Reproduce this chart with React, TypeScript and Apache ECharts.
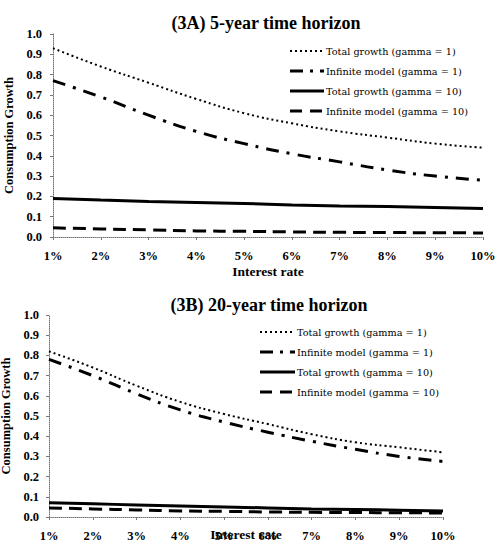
import React, { useEffect, useRef } from "react";
import * as echarts from "echarts";

const rates = ["1%", "2%", "3%", "4%", "5%", "6%", "7%", "8%", "9%", "10%"];

const seriesNames = [
  "Total growth (gamma = 1)",
  "Infinite model (gamma = 1)",
  "Total growth (gamma = 10)",
  "Infinite model (gamma = 10)",
];

// (3A) 5-year horizon
const a_totalG1 = [0.93, 0.84, 0.76, 0.68, 0.61, 0.56, 0.52, 0.49, 0.46, 0.44];
const a_infG1 = [0.77, 0.69, 0.6, 0.52, 0.46, 0.41, 0.37, 0.33, 0.3, 0.28];
const a_totalG10 = [0.19, 0.182, 0.175, 0.17, 0.165, 0.158, 0.153, 0.15, 0.145, 0.14];
const a_infG10 = [0.045, 0.04, 0.035, 0.03, 0.028, 0.025, 0.023, 0.022, 0.021, 0.02];

// (3B) 20-year horizon
const b_totalG1 = [0.82, 0.74, 0.65, 0.57, 0.51, 0.46, 0.41, 0.37, 0.345, 0.32];
const b_infG1 = [0.78, 0.7, 0.61, 0.53, 0.47, 0.42, 0.375, 0.335, 0.3, 0.275];
const b_totalG10 = [0.07, 0.065, 0.06, 0.055, 0.05, 0.045, 0.04, 0.037, 0.034, 0.03];
const b_infG10 = [0.045, 0.04, 0.035, 0.03, 0.028, 0.025, 0.023, 0.022, 0.021, 0.02];

const SERIF = "'Liberation Serif', 'DejaVu Serif', serif";
const LEGEND_FONT = "'DejaVu Serif', serif";

const lineStyles: any[] = [
  { type: [2, 3], width: 2, color: "#000" },
  { type: [13, 8, 3, 8], width: 3, color: "#000" },
  { type: "solid", width: 3, color: "#000" },
  { type: [13, 7], width: 3, color: "#000" },
];
const legendDash: any[] = [[2, 3], [13, 7, 3, 7], null, [12, 8]];

export default function App() {
  const ref = useRef<HTMLDivElement>(null);
  useEffect(() => {
    document.body.style.margin = "0";
    const chart = echarts.init(ref.current!, null, { renderer: "svg" });

    const xAxisBase = (gridIndex: number, nameGap: number) => ({
      type: "category",
      gridIndex,
      data: rates,
      boundaryGap: false,
      name: "Interest rate",
      nameLocation: "middle",
      nameGap,
      nameMoveOverlap: false,
      nameTextStyle: { fontFamily: SERIF, fontWeight: "bold", fontSize: 13.5, color: "#000" },
      axisLine: { lineStyle: { color: "#777", type: [1, 1], width: 1 } },
      axisTick: { show: true, length: 3, lineStyle: { color: "#777" } },
      axisLabel: { fontFamily: SERIF, fontSize: 12.5, color: "#000", fontWeight: "bold", margin: 12 },
      splitLine: { show: false },
    });

    const yAxisBase = (gridIndex: number, nameGap: number, margin: number) => ({
      type: "value",
      gridIndex,
      min: 0,
      max: 1,
      interval: 0.1,
      name: "Consumption Growth",
      nameLocation: "middle",
      nameGap,
      nameRotate: 90,
      nameTextStyle: { fontFamily: SERIF, fontWeight: "bold", fontSize: 12.5, color: "#000" },
      axisLine: { show: true, lineStyle: { color: "#777", type: [1, 1], width: 1 } },
      axisTick: { show: true, length: 3, lineStyle: { color: "#777" } },
      axisLabel: {
        fontFamily: SERIF,
        fontSize: 12.5,
        color: "#000",
        fontWeight: "bold",
        margin,
        formatter: (v: number) => v.toFixed(1),
      },
      splitLine: { show: false },
    });

    const mk = (data: number[], i: number, axis: number) => ({
      type: "line",
      name: seriesNames[i],
      data,
      xAxisIndex: axis,
      yAxisIndex: axis,
      symbol: "none",
      smooth: true,
      lineStyle: lineStyles[i],
      itemStyle: { color: "#000" },
    });

    const legendGraphic = (x0: number, textX: number, ys: number[]) => {
      const els: any[] = [];
      seriesNames.forEach((name, i) => {
        const y = ys[i];
        const style: any = {
          stroke: "#000",
          lineWidth: i === 0 ? 2 : 3,
        };
        if (legendDash[i]) style.lineDash = legendDash[i];
        els.push({
          type: "line",
          shape: { x1: x0, y1: y, x2: textX - 2, y2: y },
          style,
          silent: true,
        });
        els.push({
          type: "text",
          x: textX,
          y,
          style: {
            text: name,
            fontFamily: LEGEND_FONT,
            fontSize: 9.7,
            fill: "#000",
            verticalAlign: "middle",
          },
          silent: true,
        });
      });
      return els;
    };

    chart.setOption({
      animation: false,
      backgroundColor: "#fff",
      title: [
        {
          text: "(3A) 5-year time horizon",
          left: 261,
          textAlign: "center",
          top: 9,
          textStyle: { fontFamily: SERIF, fontWeight: "bold", fontSize: 18, color: "#000" },
        },
        {
          text: "(3B) 20-year time horizon",
          left: 264,
          textAlign: "center",
          top: 291,
          textStyle: { fontFamily: SERIF, fontWeight: "bold", fontSize: 18, color: "#000" },
        },
      ],
      grid: [
        { left: 53, right: 12, top: 34, bottom: 304, containLabel: false, outerBoundsMode: "none" },
        { left: 49, right: 52, top: 315, bottom: 24, containLabel: false, outerBoundsMode: "none" },
      ],
      xAxis: [xAxisBase(0, 27), xAxisBase(1, 10)],
      yAxis: [yAxisBase(0, 36, 11), yAxisBase(1, 34, 10)],
      series: [
        mk(a_totalG1, 0, 0),
        mk(a_infG1, 1, 0),
        mk(a_totalG10, 2, 0),
        mk(a_infG10, 3, 0),
        mk(b_totalG1, 0, 1),
        mk(b_infG1, 1, 1),
        mk(b_totalG10, 2, 1),
        mk(b_infG10, 3, 1),
      ],
      graphic: [
        ...legendGraphic(290, 326, [51, 71, 91, 111]),
        ...legendGraphic(260, 297, [332, 352, 372, 392]),
      ],
    });
    return () => chart.dispose();
  }, []);
  return <div ref={ref} style={{ width: 495, height: 541 }} />;
}
